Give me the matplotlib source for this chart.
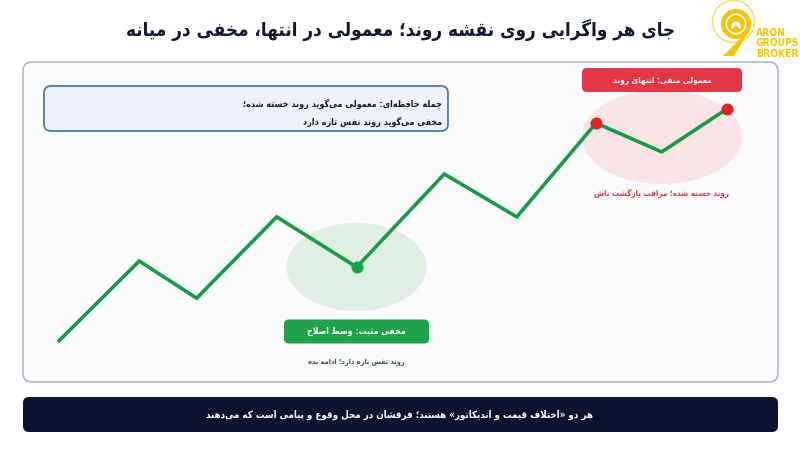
import matplotlib
matplotlib.use("Agg")
import matplotlib.pyplot as plt
from matplotlib.patches import FancyBboxPatch, Ellipse, Circle, Polygon

# ---------------- data ----------------
time_vals = [4.6, 15.4, 23.0, 33.6, 44.2, 55.8, 65.4, 75.9, 84.6, 93.2]
price_vals = [12.5, 37.8, 26.2, 51.6, 35.9, 65.0, 51.6, 80.9, 71.9, 85.3]
hidden_idx = [4]
regular_idx = [7, 9]

title_text = "جای هر واگرایی روی نقشه روند؛ معمولی در انتها، مخفی در میانه"
memo_lines = ["جمله حافظه‌ای: معمولی می‌گوید روند خسته شده؛",
              "مخفی می‌گوید روند نفس تازه دارد"]
regular_label = "معمولی منفی: انتهای روند"
regular_note = "روند خسته شده؛ مراقب بازگشت باش"
hidden_label = "مخفی مثبت: وسط اصلاح"
hidden_note = "روند نفس تازه دارد؛ ادامه بده"
footer_text = "هر دو «اختلاف قیمت و اندیکاتور» هستند؛ فرقشان در محل وقوع و پیامی است که می‌دهند"
logo_words = ['ARON', 'GROUPS', 'BROKER']

# ---------------- minimal Persian shaping ----------------
FORMS = {
    'ء': (0xFE80, None, None, None),
    'آ': (0xFE81, 0xFE82, None, None),
    'أ': (0xFE83, 0xFE84, None, None),
    'ؤ': (0xFE85, 0xFE86, None, None),
    'إ': (0xFE87, 0xFE88, None, None),
    'ئ': (0xFE89, 0xFE8A, 0xFE8B, 0xFE8C),
    'ا': (0xFE8D, 0xFE8E, None, None),
    'ب': (0xFE8F, 0xFE90, 0xFE91, 0xFE92),
    'پ': (0xFB56, 0xFB57, 0xFB58, 0xFB59),
    'ة': (0xFE93, 0xFE94, None, None),
    'ت': (0xFE95, 0xFE96, 0xFE97, 0xFE98),
    'ث': (0xFE99, 0xFE9A, 0xFE9B, 0xFE9C),
    'ج': (0xFE9D, 0xFE9E, 0xFE9F, 0xFEA0),
    'چ': (0xFB7A, 0xFB7B, 0xFB7C, 0xFB7D),
    'ح': (0xFEA1, 0xFEA2, 0xFEA3, 0xFEA4),
    'خ': (0xFEA5, 0xFEA6, 0xFEA7, 0xFEA8),
    'د': (0xFEA9, 0xFEAA, None, None),
    'ذ': (0xFEAB, 0xFEAC, None, None),
    'ر': (0xFEAD, 0xFEAE, None, None),
    'ز': (0xFEAF, 0xFEB0, None, None),
    'ژ': (0xFB8A, 0xFB8B, None, None),
    'س': (0xFEB1, 0xFEB2, 0xFEB3, 0xFEB4),
    'ش': (0xFEB5, 0xFEB6, 0xFEB7, 0xFEB8),
    'ص': (0xFEB9, 0xFEBA, 0xFEBB, 0xFEBC),
    'ض': (0xFEBD, 0xFEBE, 0xFEBF, 0xFEC0),
    'ط': (0xFEC1, 0xFEC2, 0xFEC3, 0xFEC4),
    'ظ': (0xFEC5, 0xFEC6, 0xFEC7, 0xFEC8),
    'ع': (0xFEC9, 0xFECA, 0xFECB, 0xFECC),
    'غ': (0xFECD, 0xFECE, 0xFECF, 0xFED0),
    'ف': (0xFED1, 0xFED2, 0xFED3, 0xFED4),
    'ق': (0xFED5, 0xFED6, 0xFED7, 0xFED8),
    'ک': (0xFB8E, 0xFB8F, 0xFB90, 0xFB91),
    'ك': (0xFED9, 0xFEDA, 0xFEDB, 0xFEDC),
    'گ': (0xFB92, 0xFB93, 0xFB94, 0xFB95),
    'ل': (0xFEDD, 0xFEDE, 0xFEDF, 0xFEE0),
    'م': (0xFEE1, 0xFEE2, 0xFEE3, 0xFEE4),
    'ن': (0xFEE5, 0xFEE6, 0xFEE7, 0xFEE8),
    'ه': (0xFEE9, 0xFEEA, 0xFEEB, 0xFEEC),
    'و': (0xFEED, 0xFEEE, None, None),
    'ی': (0xFBFC, 0xFBFD, 0xFBFE, 0xFBFF),
    'ي': (0xFEF1, 0xFEF2, 0xFEF3, 0xFEF4),
    'ى': (0xFEEF, 0xFEF0, None, None),
}
LAM_ALEF = {'ا': (0xFEFB, 0xFEFC), 'آ': (0xFEF5, 0xFEF6),
            'أ': (0xFEF7, 0xFEF8), 'إ': (0xFEF9, 0xFEFA)}
MIRROR = {'«': '»', '»': '«', '(': ')', ')': '('}


def dual(c):
    return c in FORMS and FORMS[c][2] is not None


def joining(c):
    return c in FORMS and FORMS[c][1] is not None


def fa(text):
    out = []
    i, n = 0, len(text)
    while i < n:
        c = text[i]
        if c == '\u200c':
            i += 1
            continue
        if c not in FORMS:
            out.append(c)
            i += 1
            continue
        prev = text[i - 1] if i > 0 else ''
        con_prev = dual(prev) and joining(c)
        if c == 'ل' and i + 1 < n and text[i + 1] in LAM_ALEF:
            iso, fin = LAM_ALEF[text[i + 1]]
            out.append(chr(fin if con_prev else iso))
            i += 2
            continue
        nxt = text[i + 1] if i + 1 < n else ''
        con_next = dual(c) and joining(nxt)
        iso, fin, ini, med = FORMS[c]
        if con_prev and con_next:
            g = med
        elif con_prev:
            g = fin
        elif con_next:
            g = ini
        else:
            g = iso
        out.append(chr(g))
        i += 1
    vis = [MIRROR.get(ch, ch) for ch in reversed(out)]
    return ''.join(vis)


# ---------------- figure ----------------
plt.rcParams['font.family'] = ['DejaVu Sans']
W, H = 800, 450
fig = plt.figure(figsize=(8, 4.5), dpi=100, facecolor='white')
canvas = fig.add_axes([0, 0, 1, 1])
canvas.set_xlim(0, W)
canvas.set_ylim(H, 0)
canvas.axis('off')
canvas.set_zorder(0)

NAVY = '#101a36'
GREEN = '#1a9a44'
RED = '#e23744'
FA = dict(fontweight='bold', fontstretch='condensed')

# title
canvas.text(400, 30, fa(title_text), ha='center', va='center', fontsize=13.5,
            color=NAVY, **FA)

# logo
GOLD = '#f6c400'
canvas.add_patch(Circle((733.5, 21.5), 21, fill=False, ec='#f9d95c', lw=1.0))
canvas.add_patch(Polygon([(745, 34), (751, 28), (734, 56), (723, 56)],
                         closed=True, fc=GOLD, ec='none'))
canvas.add_patch(Circle((736, 24), 15, fc=GOLD, ec='none'))
canvas.add_patch(Circle((736, 24), 10.5, fc='white', ec='none'))
canvas.add_patch(Circle((736, 24), 8.8, fc=GOLD, ec='none'))
canvas.add_patch(Ellipse((733.5, 25), 4, 8, angle=30, fc='white', ec='none'))
canvas.add_patch(Ellipse((738.5, 25), 4, 8, angle=-30, fc='white', ec='none'))
for k, word in enumerate(logo_words):
    canvas.text(756, 33 + k * 10.3, word, ha='left', va='center', fontsize=7.4,
                fontweight='bold', fontstretch='condensed', color=GOLD)

# panel
canvas.add_patch(FancyBboxPatch((23, 62), 755, 320,
                                boxstyle='round,pad=0,rounding_size=9',
                                fc='#f9fbfd', ec='#a9b3c4', lw=1.1))

# memo box
canvas.add_patch(FancyBboxPatch((44, 86), 404, 45,
                                boxstyle='round,pad=0,rounding_size=7',
                                fc='#eef2f8', ec='#4f7aa3', lw=1.3))
canvas.text(442, 104, fa(memo_lines[0]), ha='right', va='center', fontsize=6.5,
            color=NAVY, **FA)
canvas.text(442, 121.5, fa(memo_lines[1]), ha='right', va='center', fontsize=6.5,
            color=NAVY, **FA)

# highlight ellipses
canvas.add_patch(Ellipse((662, 137), 160, 94, fc='#f8e3e5', ec='none'))
canvas.add_patch(Ellipse((356.5, 267), 140, 88, fc='#dfefe4', ec='none'))

# regular label
canvas.add_patch(FancyBboxPatch((582, 68), 160, 24,
                                boxstyle='round,pad=0,rounding_size=5',
                                fc=RED, ec='none'))
canvas.text(662, 80.5, fa(regular_label), ha='center', va='center', fontsize=5.9,
            color='white', **FA)
canvas.text(662, 193, fa(regular_note), ha='center', va='center', fontsize=5.8,
            color=RED, **FA)

# hidden label
canvas.add_patch(FancyBboxPatch((284, 319.5), 145, 24,
                                boxstyle='round,pad=0,rounding_size=5',
                                fc='#1fa24a', ec='none'))
canvas.text(356.5, 331.5, fa(hidden_label), ha='center', va='center', fontsize=6.3,
            color='white', **FA)
canvas.text(356.5, 361.5, fa(hidden_note), ha='center', va='center', fontsize=5.3,
            color='#2e5e36', **FA)

# footer
canvas.add_patch(FancyBboxPatch((23, 397), 755, 35,
                                boxstyle='round,pad=0,rounding_size=6',
                                fc='#0c1430', ec='none'))
canvas.text(400, 414.5, fa(footer_text), ha='center', va='center', fontsize=7.05,
            color='white', **FA)

# chart axes over the panel
ax = fig.add_axes([23 / W, 1 - 382 / H, 755 / W, 320 / H])
ax.set_zorder(1)
ax.patch.set_alpha(0)
ax.set_xlim(0, 100)
ax.set_ylim(0, 100)
ax.axis('off')
ax.plot(time_vals, price_vals, color=GREEN, lw=2.6, solid_joinstyle='miter',
        solid_capstyle='butt')
ax.scatter([time_vals[i] for i in hidden_idx], [price_vals[i] for i in hidden_idx],
           s=75, color='#17a347', zorder=3, linewidths=0)
ax.scatter([time_vals[i] for i in regular_idx], [price_vals[i] for i in regular_idx],
           s=75, color='#dc2626', zorder=3, linewidths=0)

fig.savefig('out.png', dpi=100, facecolor='white')
